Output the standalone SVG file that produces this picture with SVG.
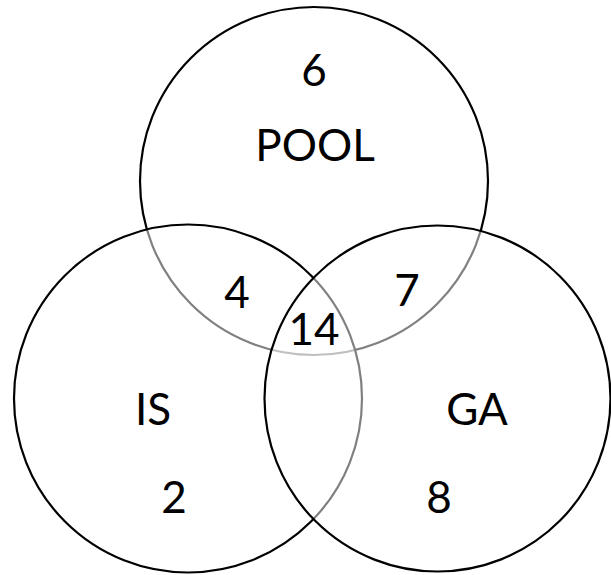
<svg xmlns="http://www.w3.org/2000/svg" width="611" height="575" viewBox="0 0 611 575">
<style>
.c{fill:#fff;fill-opacity:0.5;stroke:#000;stroke-width:2.2}
text{font-family:Lato,"Open Sans","Liberation Sans",sans-serif;font-size:44px;fill:#000;text-anchor:middle}
</style>
<rect width="611" height="575" fill="#fff"/>
<g id="pool"><circle class="c" cx="314" cy="181" r="174"/></g>
<g id="is"><circle class="c" cx="188" cy="398.5" r="174"/></g>
<g id="ga"><circle class="c" cx="437.5" cy="398.5" r="173"/></g>
<g id="labels">
<text x="314" y="86">6</text>
<text x="315" y="161">POOL</text>
<text x="237" y="308">4</text>
<text x="407" y="306">7</text>
<text x="314" y="345">14</text>
<text x="153" y="425">IS</text>
<text x="477" y="425">GA</text>
<text x="174" y="513">2</text>
<text x="439" y="513">8</text>
</g>
</svg>
